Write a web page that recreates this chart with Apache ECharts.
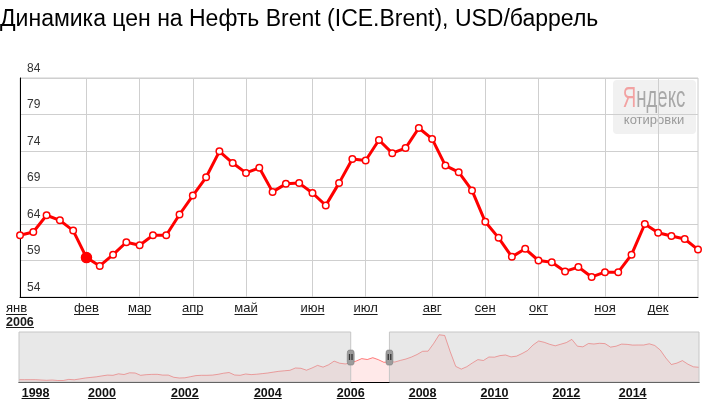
<!DOCTYPE html>
<html><head><meta charset="utf-8">
<script src="https://cdn.jsdelivr.net/npm/echarts@6/dist/echarts.min.js"></script>
<style>html,body{margin:0;padding:0;background:#fff;}#c{width:712px;height:405px;}</style>
</head><body><div id="c"></div>
<script>
// ---------- data ----------
const titleText = 'Динамика цен на Нефть Brent (ICE.Brent), USD/баррель';
const weeks = [
 '2006-01-02','2006-01-09','2006-01-16','2006-01-23','2006-01-30',
 '2006-02-06','2006-02-13','2006-02-20','2006-02-27',
 '2006-03-06','2006-03-13','2006-03-20','2006-03-27',
 '2006-04-03','2006-04-10','2006-04-17','2006-04-24',
 '2006-05-01','2006-05-08','2006-05-15','2006-05-22','2006-05-29',
 '2006-06-05','2006-06-12','2006-06-19','2006-06-26',
 '2006-07-03','2006-07-10','2006-07-17','2006-07-24','2006-07-31',
 '2006-08-07','2006-08-14','2006-08-21','2006-08-28',
 '2006-09-04','2006-09-11','2006-09-18','2006-09-25',
 '2006-10-02','2006-10-09','2006-10-16','2006-10-23','2006-10-30',
 '2006-11-06','2006-11-13','2006-11-20','2006-11-27',
 '2006-12-04','2006-12-11','2006-12-18','2006-12-25'
];
const prices = [
 62.45, 62.9, 65.2, 64.5, 63.1,
 59.4, 58.25, 59.8, 61.5,
 61.1, 62.45, 62.45, 65.3,
 67.9, 70.4, 73.95, 72.35,
 71.0, 71.7, 68.4, 69.5, 69.6,
 68.25, 66.55, 69.6, 72.9,
 72.7, 75.5, 73.7, 74.4, 77.15,
 75.65, 72.0, 71.1, 68.6,
 64.3, 62.1, 59.5, 60.6,
 59.0, 58.75, 57.5, 58.1, 56.75,
 57.4, 57.4, 59.8, 64.0,
 62.8, 62.35, 61.95, 60.5
];
const monthNames = ['янв','фев','мар','апр','май','июн','июл','авг','сен','окт','ноя','дек'];
const yearLabel = '2006';
const yMin = 54, yMax = 84, yStep = 5;
const hoverIndex = 5;

// overview (navigator) series, sampled evenly across the strip
const navValues = [
 13.3,13.3,13.3,13.3,12.4,11.6,12.4,11.1,11.1,14.1,
 13.0,15.4,17.9,19.5,21.1,23.6,25.8,25.2,29.3,27.4,
 32.0,31.5,25.2,26.9,27.7,27.9,25.8,25.8,19.8,17.9,
 18.4,21.4,24.4,25.2,25.2,25.8,27.9,30.9,32.8,26.0,
 25.2,28.8,27.1,28.2,29.8,31.5,33.9,36.1,37.5,38.8,
 45.1,44.3,39.1,45.1,52.2,47.5,53.8,63.8,58.1,56.2,
 58.7,64.1,70.6,68.2,73.1,67.7,60.6,61.9,61.4,65.8,
 69.6,75.0,81.8,90.5,91.0,111.7,135.5,133.5,89.4,49.4,
 42.1,48.6,58.7,67.9,65.5,75.0,74.5,78.8,80.4,75.3,
 77.4,84.5,92.7,107.9,118.5,115.0,109.5,105.5,109.8,114.2,
 122.9,104.4,102.7,111.7,110.4,112.3,111.4,101.9,104.4,110.1,
 109.3,107.4,107.6,107.6,110.9,106.3,93.8,72.3,54.6,58.4,
 65.2,55.4,48.3,47.0
];
const navYearLabels = ['1998','2000','2002','2004','2006','2008','2010','2012','2014'];
const navYearIdx = [3,15,30,45,60,73,86,99,111];
const navWindow = [59.8, 67.4];
const navMin = 7, navMax = 143;

// ---------- helpers ----------
const FF = '"Liberation Sans", Arial, sans-serif';
const mctx = document.createElement('canvas').getContext('2d');
function tw(t, font) { mctx.font = font; return Math.round(mctx.measureText(t).width); }
const monthFont = '13px "Liberation Sans"';
const yearFont = 'bold 12.5px "Liberation Sans"';
const monthOf = d => +d.slice(5, 7) - 1;
const isMonthStart = i => i === 0 || weeks[i].slice(5, 7) !== weeks[i - 1].slice(5, 7);

const mainRich = {
  m: {fontSize: 13, lineHeight: 11, color: '#1a1a1a', fontFamily: FF},
  ml: {fontSize: 13, lineHeight: 11, color: '#1a1a1a', fontFamily: FF, align: 'left'},
  sp: {fontSize: 1, lineHeight: 3},
  y: {fontSize: 12.5, fontWeight: 'bold', lineHeight: 9, color: '#1a1a1a', fontFamily: FF, align: 'left'},
  uy: {fontSize: 1, lineHeight: 1, height: 1, width: tw(yearLabel, yearFont), backgroundColor: '#1a1a1a', align: 'left'}
};
monthNames.forEach((n, k) => {
  mainRich['u' + k] = {fontSize: 1, lineHeight: 1, height: 1, width: tw(n, monthFont), backgroundColor: '#1a1a1a'};
  mainRich['ul' + k] = {fontSize: 1, lineHeight: 1, height: 1, width: tw(n, monthFont), backgroundColor: '#1a1a1a', align: 'left'};
});
const navRich = {
  y: {fontSize: 12.5, fontWeight: 'bold', lineHeight: 9, color: '#111', fontFamily: FF},
  uy: {fontSize: 1, lineHeight: 1, height: 1, width: tw('2000', yearFont), backgroundColor: '#111'}
};

const seriesData = prices.map((v, i) => i === hoverIndex
  ? {value: v, symbolSize: 10, itemStyle: {color: '#ff0000', borderColor: '#ff0000'}}
  : v);

const chart = echarts.init(document.getElementById('c'), null, {renderer: 'canvas'});
chart.setOption({
  animation: false,
  backgroundColor: '#fff',
  textStyle: {fontFamily: FF},
  title: {
    text: titleText, left: 0, top: 7, padding: 0,
    textStyle: {fontSize: 23, fontWeight: 'normal', color: '#000', fontFamily: FF, lineHeight: 26}
  },
  grid: [
    {left: 20, right: 14, top: 78, bottom: 108, show: true, borderColor: '#cccccc', borderWidth: 1, containLabel: false},
    {left: 19, right: 13, top: 332, bottom: 23, containLabel: false}
  ],
  xAxis: [
    {
      type: 'category', gridIndex: 0, data: weeks, boundaryGap: false,
      axisLine: {show: true, lineStyle: {color: '#000', width: 1}},
      axisTick: {show: false},
      splitLine: {show: true, interval: (i) => isMonthStart(i), lineStyle: {color: '#cfcfcf', width: 1}},
      axisLabel: {
        interval: (i) => isMonthStart(i), margin: 6, hideOverlap: false,
        formatter: (val, i) => {
          const k = monthOf(val);
          if (i === 0) return `{ml|${monthNames[k]}}\n{ul${k}| }\n{sp| }\n{y|${yearLabel}}\n{uy| }`;
          return `{m|${monthNames[k]}}\n{u${k}| }`;
        },
        rich: mainRich
      }
    },
    {
      type: 'category', gridIndex: 1, data: navValues.map((_, i) => i), boundaryGap: false,
      axisLine: {show: true, lineStyle: {color: '#000', width: 1}},
      axisTick: {show: false},
      splitLine: {show: false},
      axisLabel: {
        interval: (i) => navYearIdx.includes(i), margin: 7, hideOverlap: false,
        formatter: (val, i) => `{y|${navYearLabels[navYearIdx.indexOf(i)]}}\n{uy| }`,
        rich: navRich
      }
    }
  ],
  yAxis: [
    {
      type: 'value', gridIndex: 0, min: yMin, max: yMax, interval: yStep,
      axisLine: {show: true, lineStyle: {color: '#000', width: 1}},
      axisTick: {show: false},
      splitLine: {show: true, lineStyle: {color: '#cfcfcf', width: 1}},
      axisLabel: {inside: true, margin: 7, verticalAlign: 'bottom', lineHeight: 19, fontSize: 12, color: '#333', fontFamily: FF}
    },
    {
      type: 'value', gridIndex: 1, min: navMin, max: navMax, show: false,
      splitLine: {show: false}
    }
  ],
  series: [
    {
      type: 'line', xAxisIndex: 0, yAxisIndex: 0, data: seriesData,
      symbol: 'circle', symbolSize: 6.5, showAllSymbol: true,
      lineStyle: {color: '#ff0000', width: 3},
      itemStyle: {color: '#ffffff', borderColor: '#ff0000', borderWidth: 1.5},
      z: 3, silent: true
    },
    {
      type: 'line', xAxisIndex: 1, yAxisIndex: 1, data: navValues,
      symbol: 'none', silent: true,
      lineStyle: {color: 'rgba(255,0,0,0.5)', width: 1},
      areaStyle: {color: 'rgba(255,0,0,0.12)'},
      z: 2
    },
    {
      type: 'line', xAxisIndex: 1, yAxisIndex: 1, data: [], silent: true, z: 5,
      markArea: {
        silent: true, z: 5,
        itemStyle: {color: 'rgba(200,200,200,0.42)', borderColor: '#c6c6c6', borderWidth: 1},
        label: {show: false},
        data: [
          [{xAxis: 0}, {xAxis: navWindow[0]}],
          [{xAxis: navWindow[1]}, {xAxis: navValues.length - 1}]
        ]
      },
      markPoint: {
        silent: true, z: 6,
        symbol: 'roundRect', symbolSize: [7, 15],
        itemStyle: {color: '#9c9c9c', borderColor: '#7a7a7a', borderWidth: 0.5},
        label: {show: true, position: 'inside', formatter: 'II', fontSize: 9, fontWeight: 'bold', color: '#333', fontFamily: FF},
        data: [
          {coord: [navWindow[0], 73.5]},
          {coord: [navWindow[1], 73.5]}
        ]
      }
    }
  ],
  graphic: [
    {
      type: 'group', z: 20, silent: true,
      children: [
        {type: 'rect', shape: {x: 613, y: 80, width: 83, height: 54, r: 4}, style: {fill: '#f1f1f1'}},
        {type: 'text', x: 654, y: 98.5, scaleX: 0.62,
          style: {text: '{a|Я}{b|ндекс}', align: 'center', verticalAlign: 'middle',
            rich: {a: {fontSize: 30, fontFamily: FF, fill: '#f2a2a2'}, b: {fontSize: 30, fontFamily: FF, fill: '#a8a8a8'}}}},
        {type: 'text', x: 654, y: 120.5,
          style: {text: 'котировки', align: 'center', verticalAlign: 'middle', fontSize: 13, fontFamily: FF, fill: '#9a9a9a'}}
      ]
    }
  ]
});
</script>
</body></html>
